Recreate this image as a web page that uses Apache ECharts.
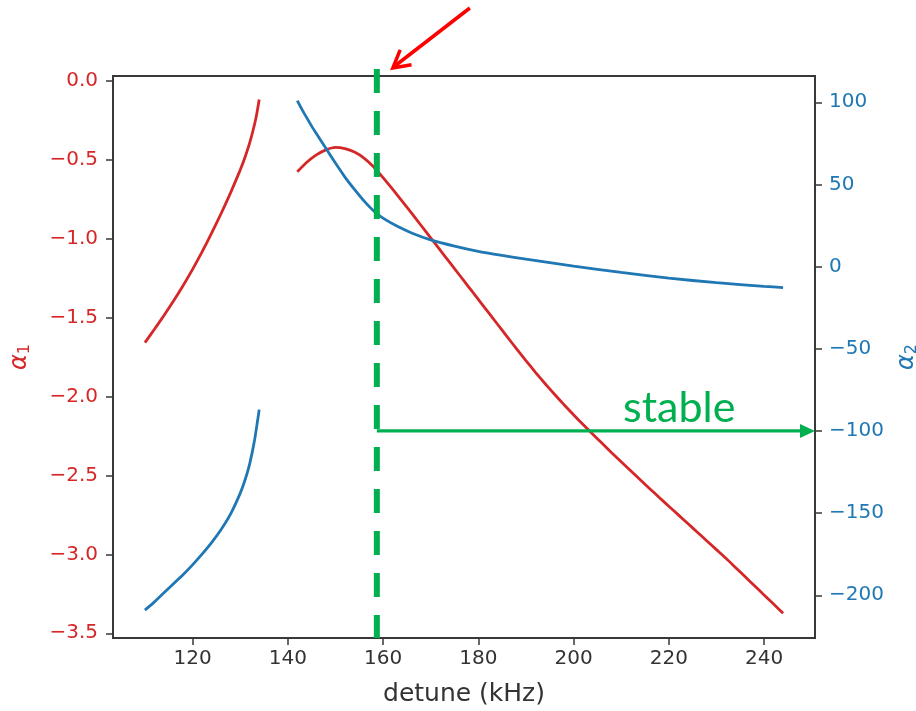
<!DOCTYPE html>
<html><head><meta charset="utf-8">
<script src="https://cdn.jsdelivr.net/npm/echarts@6/dist/echarts.min.js"></script>
<style>html,body{margin:0;padding:0;background:#fff}#c{width:916px;height:711px}</style>
</head><body><div id="c"></div>
<script>
// ---- data ----
const red1X = [110,112,114,116,118,120,122,124,126,128,130,131,132,133,133.5,134];
const red1Y = [-1.659,-1.574,-1.487,-1.396,-1.299,-1.195,-1.084,-0.966,-0.841,-0.709,-0.566,-0.486,-0.394,-0.279,-0.207,-0.119];
const red2X = [142,144,146,148,150,152,154,156,158,160,162,164,166,168,170,172,174,176,178,180,182,184,186,188,190,192,194,196,198,200,202,204,206,208,210,212,214,216,218,220,222,224,226,228,230,232,234,236,238,240,242,244];
const red2Y = [-0.576,-0.516,-0.470,-0.438,-0.422,-0.430,-0.452,-0.490,-0.545,-0.614,-0.687,-0.762,-0.839,-0.917,-0.995,-1.073,-1.151,-1.229,-1.307,-1.385,-1.463,-1.541,-1.619,-1.697,-1.773,-1.847,-1.918,-1.986,-2.052,-2.116,-2.178,-2.238,-2.297,-2.356,-2.414,-2.471,-2.528,-2.584,-2.640,-2.695,-2.750,-2.805,-2.860,-2.915,-2.970,-3.025,-3.083,-3.141,-3.199,-3.257,-3.315,-3.373];
const blue1X = [110,112,114,116,118,120,122,124,126,128,130,131,132,133,134];
const blue1Y = [-209,-204,-198.5,-193,-187.5,-181.5,-175,-168,-160,-150.5,-138,-130,-120,-106,-87];
const blue2X = [142,143,144,145,146,148,150,152,154,156,158,160,163,166,170,175,180,185,190,200,210,220,230,240,244];
const blue2Y = [101,95.5,90.5,85.5,81,72,63,54.5,47,40,34,29.5,24.5,20.5,16.3,12.5,9.3,6.8,4.5,0.3,-3.5,-7,-9.8,-12,-12.8];
const xTicks = [120,140,160,180,200,220,240];
const leftTicks = [-3.5,-3,-2.5,-2,-1.5,-1,-0.5,0];
const rightTicks = [-200,-150,-100,-50,0,50,100];
const stableDetune = 158.7;   // vertical dashed marker
const stableLevel = -100;     // alpha2 level of the "stable" arrow
const stableLabel = 'stable';

// ---- chart ----
const RED = '#d62728', BLUE = '#1f77b4', GREEN = '#00b050', AX = '#383838';
const X_MIN = 103.3, X_MAX = 250.7, L_MIN = -3.53, L_MAX = 0.03, R_MIN = -226, R_MAX = 116;
const zip = (xs, ys) => xs.map((x, i) => [x, ys[i]]);
const minus = s => String(s).replace('-', '\u2212');
const chart = echarts.init(document.getElementById('c'), null, {renderer: 'canvas'});

const tickStyle = {show: true, inside: false, length: 7, lineStyle: {color: AX, width: 1.5}};
const lineSeries = (name, data, color, yi) => ({
  name, type: 'line', data, yAxisIndex: yi, showSymbol: false, smooth: 0.2,
  lineStyle: {color, width: 2.8}, itemStyle: {color}, silent: true, z: 3
});

chart.setOption({
  animation: false,
  backgroundColor: '#fff',
  grid: {left: 113, right: 101, top: 76, bottom: 73, containLabel: false, outerBoundsMode: 'none',
    show: true, borderColor: AX, borderWidth: 1.8},
  xAxis: {
    type: 'value', min: X_MIN, max: X_MAX, splitLine: {show: false},
    axisLine: {show: true, onZero: false, lineStyle: {color: AX, width: 1.8}},
    axisTick: Object.assign({customValues: xTicks}, tickStyle),
    axisLabel: {customValues: xTicks, color: '#333', fontSize: 20, fontFamily: 'DejaVu Sans', margin: 11},
    name: 'detune (kHz)', nameLocation: 'middle', nameGap: 44,
    nameTextStyle: {fontSize: 25, color: '#333', fontFamily: 'DejaVu Sans'}
  },
  yAxis: [{
    type: 'value', position: 'left', min: L_MIN, max: L_MAX, splitLine: {show: false},
    axisLine: {show: true, onZero: false, lineStyle: {color: AX, width: 1.8}},
    axisTick: Object.assign({customValues: leftTicks}, tickStyle),
    axisLabel: {customValues: leftTicks, color: RED, fontSize: 20, fontFamily: 'DejaVu Sans', margin: 15,
      formatter: v => minus(v.toFixed(1))},
    name: '{a|α}{s|1}', nameLocation: 'middle', nameGap: 80, nameRotate: 90,
    nameTextStyle: {rich: {
      a: {fontSize: 24, color: RED, fontFamily: 'DejaVu Sans', fontStyle: 'italic'},
      s: {fontSize: 16, color: RED, fontFamily: 'DejaVu Sans', padding: [11, 0, 0, 0]}
    }}
  }, {
    type: 'value', position: 'right', min: R_MIN, max: R_MAX, splitLine: {show: false},
    axisLine: {show: true, onZero: false, lineStyle: {color: AX, width: 1.8}},
    axisTick: Object.assign({customValues: rightTicks}, tickStyle),
    axisLabel: {customValues: rightTicks, color: BLUE, fontSize: 20, fontFamily: 'DejaVu Sans', margin: 14,
      formatter: v => minus(v)},
    name: '{a|α}{s|2}', nameLocation: 'middle', nameGap: 74, nameRotate: 90,
    nameTextStyle: {rich: {
      a: {fontSize: 24, color: BLUE, fontFamily: 'DejaVu Sans', fontStyle: 'italic'},
      s: {fontSize: 16, color: BLUE, fontFamily: 'DejaVu Sans', padding: [11, 0, 0, 0]}
    }}
  }],
  series: [
    lineSeries('a1_low', zip(red1X, red1Y), RED, 0),
    lineSeries('a1_high', zip(red2X, red2Y), RED, 0),
    lineSeries('a2_low', zip(blue1X, blue1Y), BLUE, 1),
    lineSeries('a2_high', zip(blue2X, blue2Y), BLUE, 1)
  ]
});

// ---- annotations positioned through the axes ----
const px = chart.convertToPixel({xAxisIndex: 0}, stableDetune);
const xr = chart.convertToPixel({xAxisIndex: 0}, X_MAX);
const yTop = chart.convertToPixel({yAxisIndex: 0}, L_MAX);
const yBot = chart.convertToPixel({yAxisIndex: 0}, L_MIN);
const yArr = chart.convertToPixel({yAxisIndex: 1}, stableLevel);
const tx = chart.convertToPixel({xAxisIndex: 0}, 210.4);
const tip = [px + 16, yTop - 8];

chart.setOption({
  graphic: [
    {type: 'line', z: 10, shape: {x1: px, y1: yTop - 7, x2: px, y2: yBot},
      style: {stroke: GREEN, lineWidth: 6, lineDash: [24, 18]}},
    {type: 'line', z: 10, shape: {x1: px, y1: yArr, x2: xr - 10, y2: yArr},
      style: {stroke: GREEN, lineWidth: 3.3}},
    {type: 'polygon', z: 10, shape: {points: [[xr, yArr], [xr - 15, yArr - 7], [xr - 15, yArr + 7]]},
      style: {fill: GREEN}},
    {type: 'text', z: 10, x: tx, y: yArr - 1,
      style: {text: stableLabel, fill: GREEN, font: '43px Lato', textAlign: 'left', textVerticalAlign: 'bottom'}},
    {type: 'line', z: 10, shape: {x1: tip[0] + 77, y1: tip[1] - 60, x2: tip[0] + 2, y2: tip[1] - 2},
      style: {stroke: '#ff0000', lineWidth: 3.5}},
    {type: 'polyline', z: 10, shape: {points: [[tip[0] + 7.3, tip[1] - 18.2], tip, [tip[0] + 18.7, tip[1] - 3.3]]},
      style: {stroke: '#ff0000', lineWidth: 3.5, lineJoin: 'miter', fill: null}}
  ]
});
</script>
</body></html>
